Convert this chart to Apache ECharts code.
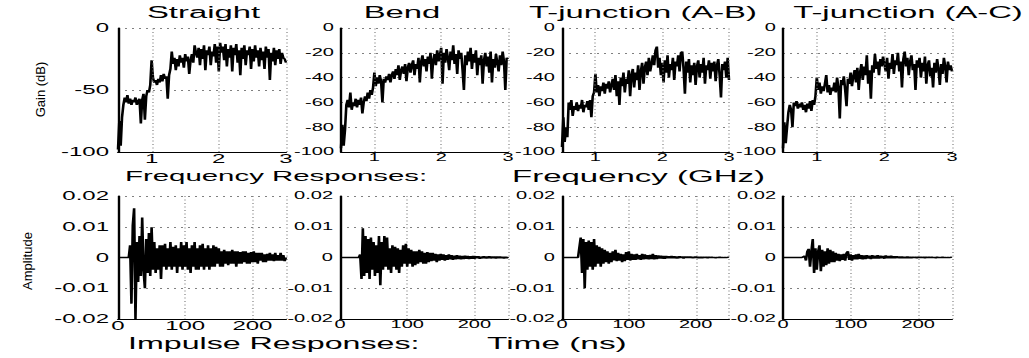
<!DOCTYPE html>
<html>
<head>
<meta charset="utf-8">
<script src="https://cdn.jsdelivr.net/npm/echarts@6/dist/echarts.min.js"></script>
<style>
html,body{margin:0;padding:0;background:#fff;overflow:hidden;}
#wrap{width:1029px;height:358px;overflow:hidden;position:relative;background:#fff;}
#chart{height:358px;transform-origin:0 0;position:absolute;left:0;top:0;}
#overlay{width:1029px;height:358px;position:absolute;left:0;top:0;pointer-events:none;}
</style>
</head>
<body>
<div id="wrap"><div id="chart"></div><div id="overlay"></div></div>
<script>
// ---------------- DATA ----------------
const panelTitles = ['Straight', 'Bend', 'T-junction (A-B)', 'T-junction (A-C)'];
const freqTickLabels = [1, 2, 3];            // GHz tick labels shown
const freqStartGHz = 0.5, freqStepGHz = 0.02; // sampling grid of the gain arrays
const timeStepNs = 2;                         // sampling grid of the impulse arrays

// Gain (dB) from 0.5 to 3.0 GHz
const gainStraight = [
 -98,-75,-95,-72,-62,-56,-60,-54,-61,-57,
 -62,-58,-60,-56,-62,-59,-57,-77,-58,-53,
 -74,-55,-50,-52,-46,-26,-40,-44,-42,-46,
 -41,-44,-38,-43,-37,-41,-39,-57,-38,-33,
 -19,-29,-24,-34,-25,-31,-22,-28,-24,-32,
 -21,-27,-23,-37,-26,-21,-28,-14,-20,-24,
 -16,-30,-17,-25,-14,-34,-18,-22,-15,-30,
 -19,-23,-13,-28,-15,-35,-12,-20,-15,-26,
 -13,-31,-17,-24,-14,-35,-16,-22,-13,-28,
 -18,-38,-16,-25,-14,-30,-18,-22,-15,-33,
 -17,-27,-14,-24,-18,-31,-16,-26,-19,-33,
 -15,-24,-17,-42,-20,-27,-16,-30,-18,-25,
 -17,-29,-20,-24,-25,-28];
const gainBend = [
 -97,-78,-95,-82,-62,-58,-64,-52,-66,-60,
 -63,-57,-64,-58,-62,-56,-69,-60,-55,-59,
 -52,-57,-50,-54,-48,-36,-47,-40,-45,-38,
 -43,-60,-41,-44,-39,-42,-37,-44,-38,-35,
 -41,-33,-38,-30,-42,-34,-31,-37,-29,-43,
 -32,-28,-36,-30,-26,-38,-29,-33,-24,-44,
 -27,-22,-31,-25,-35,-23,-29,-20,-41,-26,
 -21,-30,-18,-27,-22,-16,-45,-20,-28,-17,
 -24,-34,-19,-26,-14,-29,-21,-37,-18,-25,
 -20,-34,-50,-22,-30,-19,-27,-16,-33,-21,
 -28,-18,-38,-24,-30,-22,-45,-26,-20,-31,
 -23,-36,-19,-44,-25,-32,-21,-28,-35,-22,
 -30,-19,-27,-50,-24,-25];
const gainTjAB = [
 -96,-72,-92,-80,-88,-60,-66,-58,-71,-63,
 -66,-60,-67,-62,-65,-58,-68,-62,-64,-59,
 -66,-58,-72,-55,-52,-37,-52,-46,-55,-47,
 -51,-44,-53,-45,-49,-43,-52,-46,-41,-50,
 -38,-55,-43,-62,-40,-47,-36,-52,-41,-45,
 -34,-55,-38,-33,-48,-36,-42,-30,-50,-35,
 -28,-45,-32,-27,-38,-24,-35,-29,-22,-30,
 -18,-15,-32,-24,-38,-28,-44,-26,-36,-22,
 -40,-29,-34,-24,-42,-27,-31,-22,-35,-20,
 -19,-33,-53,-27,-36,-25,-44,-30,-38,-28,
 -46,-31,-26,-40,-29,-36,-24,-45,-30,-34,
 -26,-41,-28,-35,-27,-43,-30,-25,-38,-56,
 -29,-34,-27,-40,-24,-42];
const gainTjAC = [
 -97,-76,-93,-80,-68,-62,-66,-80,-60,-63,
 -59,-65,-61,-64,-60,-66,-62,-68,-61,-65,
 -59,-67,-58,-62,-55,-40,-50,-44,-53,-47,
 -51,-45,-38,-52,-46,-54,-48,-51,-44,-52,
 -40,-48,-73,-42,-46,-39,-50,-63,-41,-45,
 -36,-47,-39,-34,-44,-32,-50,-36,-29,-42,
 -31,-38,-22,-45,-34,-57,-30,-36,-21,-33,
 -27,-38,-25,-31,-23,-29,-35,-24,-41,-28,
 -33,-21,-37,-26,-30,-20,-35,-27,-48,-25,
 -19,-31,-24,-38,-27,-22,-34,-29,-50,-26,
 -32,-24,-40,-28,-35,-23,-45,-30,-26,-39,
 -32,-48,-28,-36,-25,-33,-46,-29,-37,-24,
 -31,-44,-27,-34,-30,-35];

// Impulse response amplitude from 0 to 250 ns
const impStraight = [
 0,0,0,0,0,0,0,0,0,0.004,
 -0.015,0.0105,0.016,-0.02,0.005,-0.008,0.007,-0.006,0.013,-0.004,
 -0.01,0.006,-0.005,0.008,-0.006,0.0098,-0.004,0.005,-0.005,0.003,
 -0.004,0.004,-0.007,0.004,-0.003,0.0045,-0.004,0.003,-0.003,0.005,
 -0.004,0.0035,-0.003,0.004,-0.005,0.003,-0.003,0.005,-0.004,0.004,
 -0.003,0.005,-0.004,0.003,-0.005,0.004,-0.003,0.005,-0.004,0.003,
 -0.004,0.004,-0.003,0.0045,-0.004,0.003,-0.003,0.004,-0.004,0.003,
 -0.003,0.004,-0.003,0.0035,-0.002,0.003,-0.003,0.002,-0.003,0.0025,
 -0.002,0.002,-0.0025,0.002,-0.002,0.0025,-0.002,0.002,-0.003,0.002,
 -0.002,0.0018,-0.002,0.002,-0.0015,0.002,-0.002,0.0015,-0.002,0.0018,
 -0.0015,0.002,-0.0015,0.0015,-0.002,0.0015,-0.001,0.0015,-0.0015,0.001,
 -0.0015,0.0012,-0.001,0.0015,-0.001,0.001,-0.0012,0.0015,-0.001,0.0008,
 -0.001,0.0015,-0.001,0.0008,-0.0012,0];
const impBend = [
 0,0,0,0,0,0,0,0,0,0,
 0,0,0,0,0,0.001,-0.007,0.0095,-0.006,0.007,
 -0.005,0.006,-0.007,0.0065,-0.004,0.005,-0.006,0.004,-0.005,0.007,
 -0.009,0.005,-0.004,0.007,-0.003,0.0065,-0.004,0.003,-0.005,0.004,
 -0.003,0.0035,-0.004,0.003,-0.005,0.0025,-0.003,0.004,-0.002,0.0045,
 -0.003,0.003,-0.002,0.0025,-0.003,0.002,-0.0025,0.002,-0.002,0.0025,
 -0.0015,0.002,-0.002,0.0015,-0.002,0.0018,-0.0015,0.0015,-0.0012,0.0015,
 -0.001,0.0012,-0.0015,0.001,-0.001,0.0012,-0.0008,0.001,-0.001,0.0008,
 -0.0008,0.001,-0.0006,0.0008,-0.0008,0.0006,-0.0006,0.0008,-0.0005,0.0006,
 -0.0006,0.0005,-0.0005,0.0006,-0.0004,0.0005,-0.0005,0.0004,-0.0004,0.0005,
 -0.0004,0.0004,-0.0003,0.0004,-0.0004,0.0003,-0.0003,0.0004,-0.0003,0.0003,
 -0.0003,0.0004,-0.0003,0.0003,-0.0002,0.0003,-0.0003,0.0003,-0.0002,0.0003,
 -0.0002,0.0002,-0.0003,0.0002,-0.0002,0.0002];
const impTjAB = [
 0,0,0,0,0,0,0,0,0,0,
 0,0,0,0,0.0065,-0.005,0.006,-0.01,0.005,-0.004,
 0.0055,-0.003,0.005,-0.004,0.006,-0.003,0.004,-0.002,0.0035,-0.003,
 0.003,-0.002,0.0025,-0.0015,0.002,-0.002,0.0015,-0.0015,0.002,-0.001,
 0.0025,-0.0012,0.0015,-0.001,0.0012,-0.0015,0.001,-0.0012,0.0018,-0.0008,
 0.002,-0.001,0.0012,-0.0008,0.001,-0.0008,0.0012,-0.0006,0.0008,-0.0008,
 0.0012,-0.0006,0.001,-0.0005,0.0008,-0.0006,0.0009,-0.0005,0.0012,-0.0006,
 0.0008,-0.0005,0.0007,-0.0004,0.0006,-0.0004,0.0005,-0.0004,0.0005,-0.0003,
 0.0004,-0.0003,0.0005,-0.0003,0.0004,-0.0003,0.0003,-0.0003,0.0004,-0.0002,
 0.0003,-0.0003,0.0003,-0.0002,0.0003,-0.0002,0.0003,-0.0002,0.0002,-0.0002,
 0.0003,-0.0002,0.0002,-0.0002,0.0002,-0.0002,0.0002,-0.0001,0.0002,-0.0002,
 0.0002,-0.0001,0.0002,-0.0001,0.0001,-0.0002,0.0001,-0.0001,0.0002,-0.0001,
 0.0001,-0.0001,0.0001,-0.0001,0.0001,0];
const impTjAC = [
 0,0,0,0,0,0,0,0,0,0,
 0,0,0,0,0,0,0.0005,-0.001,0.002,0.0028,
 -0.003,0.002,0.006,-0.005,0.003,-0.004,0.002,0.004,-0.0045,0.0025,
 -0.003,0.002,-0.0025,0.003,-0.002,0.0025,-0.0015,0.002,-0.0015,0.0015,
 -0.001,0.0012,-0.0012,0.001,-0.0008,0.0012,-0.001,0.0015,0.002,-0.0008,
 0.001,-0.001,0.0008,-0.0006,0.001,-0.0006,0.0012,-0.0005,0.0008,-0.0006,
 0.0007,-0.0005,0.0008,-0.0004,0.0006,-0.0005,0.0008,-0.0004,0.0006,-0.0004,
 0.0008,-0.0004,0.0006,-0.0003,0.0005,-0.0004,0.0007,-0.0003,0.0005,-0.0003,
 0.0006,-0.0003,0.0004,-0.0003,0.0004,-0.0002,0.0003,-0.0002,0.0003,-0.0002,
 0.0002,-0.0002,0.0003,-0.0002,0.0002,-0.0002,0.0002,-0.0001,0.0002,-0.0002,
 0.0002,-0.0001,0.0002,-0.0001,0.0002,-0.0002,0.0002,-0.0001,0.0002,-0.0001,
 0.0002,-0.0001,0.0001,-0.0002,0.0002,-0.0001,0.0001,-0.0001,0.0002,-0.0001,
 0.0001,-0.0001,0.0001,-0.0001,0.0001,0];

// ---------------- LAYOUT / STYLE ----------------
const SX = 2;                       // horizontal stretch of the figure (reference looks widened)
const W0 = 1029 / SX;
const FONT = '"Liberation Sans", Arial, Helvetica, sans-serif';
const colL_top = [118, 341, 562, 783], colR_top = [286, 508, 729, 952];
const colL_bot = [118, 340, 562, 783], colR_bot = [286, 508, 729, 952];
const titleCx = [203.5, 402, 643, 908];
const tickFont = [12, 10, 10, 10];          // first column uses larger tick labels
const yLabelMargin = [4.5, 3.5, 3.5, 3.5];
const gridDots = {type: [1, 2.5], color: '#808080', width: 1};
const gridDotsV = {type: [1, 2.5], color: '#808080', width: 0.6};

const el = document.getElementById('chart');
el.style.width = W0 + 'px';
el.style.transform = 'scaleX(' + SX + ')';

const gains = [gainStraight, gainBend, gainTjAB, gainTjAC];
const imps = [impStraight, impBend, impTjAB, impTjAC];
const freqGHz = gainStraight.map((_, i) => +(freqStartGHz + freqStepGHz * i).toFixed(2));
const timeNs = impStraight.map((_, i) => timeStepNs * i);

const lab = (i, extra) => Object.assign({color: '#000', fontSize: tickFont[i], fontFamily: FONT}, extra);
const axisLineStyle = {onZero: false, lineStyle: {color: '#000', width: 1.2}};

const grid = [], xAxis = [], yAxis = [], series = [];
for (let i = 0; i < 4; i++) {
  grid.push({left: colL_top[i] / SX, top: 28, width: (colR_top[i] - colL_top[i]) / SX, height: 124});
  xAxis.push({
    gridIndex: i, type: 'value', min: 0.5, max: 3, interval: 0.5,
    axisLine: axisLineStyle, axisTick: {show: false}, splitLine: {show: false},
    axisLabel: lab(i, {margin: 1, formatter: v => freqTickLabels.includes(v) ? String(v) : ''})
  });
  yAxis.push({
    gridIndex: i, type: 'value', min: -100, max: 0, interval: i === 0 ? 50 : 20,
    axisLine: Object.assign({show: true}, axisLineStyle), axisTick: {show: false},
    splitLine: {show: true, lineStyle: gridDots},
    axisLabel: lab(i, {margin: yLabelMargin[i]})
  });
  series.push({
    type: 'line', xAxisIndex: i, yAxisIndex: i, showSymbol: false, silent: true,
    data: freqGHz.map((f, k) => [f, gains[i][k]]),
    lineStyle: {color: '#000', width: 1.3},
    markLine: {silent: true, symbol: ['none', 'none'], label: {show: false},
      lineStyle: gridDotsV, data: freqTickLabels.map(v => ({xAxis: v}))}
  });
}
for (let i = 0; i < 4; i++) {
  const g = i + 4;
  grid.push({left: colL_bot[i] / SX, top: 196, width: (colR_bot[i] - colL_bot[i]) / SX, height: 123});
  xAxis.push({
    gridIndex: g, type: 'value', min: 0, max: 250, interval: 100,
    axisLine: axisLineStyle, axisTick: {show: false},
    splitLine: {show: true, lineStyle: gridDotsV},
    axisLabel: lab(i, {margin: 1, showMaxLabel: false})
  });
  yAxis.push({
    gridIndex: g, type: 'value', min: -0.02, max: 0.02, interval: 0.01,
    axisLine: Object.assign({show: true}, axisLineStyle), axisTick: {show: false},
    splitLine: {show: true, lineStyle: gridDots},
    axisLabel: lab(i, {margin: yLabelMargin[i]})
  });
  series.push({
    type: 'line', xAxisIndex: g, yAxisIndex: g, showSymbol: false, silent: true,
    data: timeNs.map((t, k) => [t, imps[i][k]]),
    lineStyle: {color: '#000', width: 1.3}
  });
}

function txt(text, x, y, size, align, extra) {
  return Object.assign({
    type: 'text', x: x, y: y, silent: true,
    style: {text: text, fill: '#000', fontSize: size, fontFamily: FONT,
      textAlign: align, textVerticalAlign: 'middle'}
  }, extra || {});
}
const graphics = [];
panelTitles.forEach((t, i) => graphics.push(txt(t, titleCx[i] / SX, 12.5, 16.4, 'center')));
graphics.push(txt('Frequency Responses:', 125 / SX, 176, 14.7, 'left'));
graphics.push(txt('Frequency (GHz)', 512 / SX, 176, 16.5, 'left'));
graphics.push(txt('Impulse Responses:', 128 / SX, 343.5, 16.1, 'left'));
graphics.push(txt('Time (ns)', 487 / SX, 343.5, 16.7, 'left'));

const chart = echarts.init(el, null, {renderer: 'svg'});
chart.setOption({
  animation: false,
  backgroundColor: '#fff',
  grid: grid, xAxis: xAxis, yAxis: yAxis, series: series,
  graphic: {elements: graphics}
});

// un-stretched overlay for the rotated axis names
const ov = echarts.init(document.getElementById('overlay'), null, {renderer: 'svg'});
ov.setOption({
  animation: false,
  backgroundColor: 'transparent',
  graphic: {elements: [
    txt('Gain (dB)', 40, 89.5, 13, 'center', {rotation: Math.PI / 2}),
    txt('Amplitude', 27, 261, 13, 'center', {rotation: Math.PI / 2})
  ]}
});
</script>
</body>
</html>
